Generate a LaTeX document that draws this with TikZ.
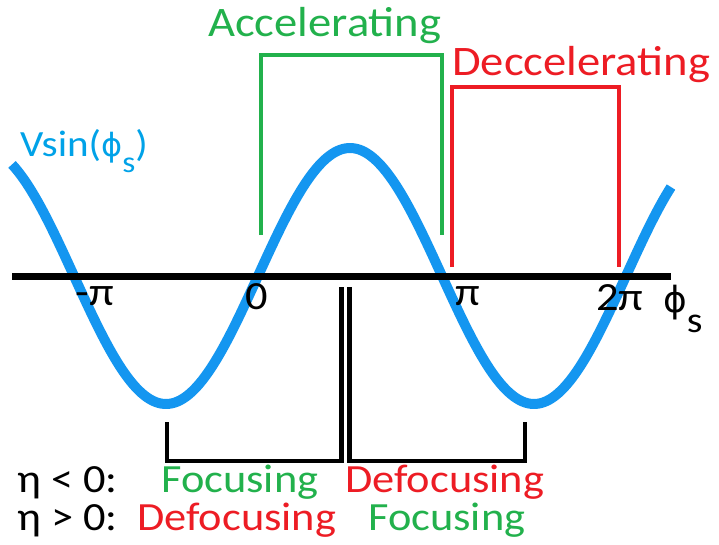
\documentclass[tikz,border=0pt]{standalone}
\usepackage{fontspec}
\setmainfont{Carlito}[FakeStretch=1.11]
\newfontfamily\dvfont{DejaVu Sans}
\definecolor{pgreen}{RGB}{34,177,76}
\definecolor{pred}{RGB}{237,28,36}
\definecolor{pblue}{RGB}{0,162,232}
\definecolor{wblue}{RGB}{20,150,240}
\tikzset{
  lbl/.style={inner sep=0pt, anchor=base west},
  tick/.style={inner sep=0pt, anchor=base, font=\fontsize{40}{44}\selectfont},
  bigtxt/.style={font=\fontsize{42}{46}\selectfont},
  midtxt/.style={font=\fontsize{40}{44}\selectfont},
  brk/.style={line width=4.5pt, line cap=butt, line join=miter},
}
\begin{document}
\begin{tikzpicture}[x=1pt,y=-1pt]
\fill[white] (0,0) rectangle (719,545);
\useasboundingbox (0,0) rectangle (719,545);
% sine wave
\draw[wblue, line width=10pt, line cap=butt] plot[domain=12:671, samples=240, smooth] (\x, {276-128*sin((\x-258)/184*180)});
% axis
\coordinate (axL) at (12,276);
\coordinate (axR) at (671,276);
\draw[line width=7pt] (axL) -- (axR);
% accelerating bracket
\coordinate (g1) at (261,235); \coordinate (g2) at (261,55);
\coordinate (g3) at (442,55); \coordinate (g4) at (442,235);
\draw[brk, pgreen] (g1) -- (g2) -- (g3) -- (g4);
% deccelerating bracket
\coordinate (r1) at (452,267); \coordinate (r2) at (452,87);
\coordinate (r3) at (619,87); \coordinate (r4) at (619,267);
\draw[brk, pred] (r1) -- (r2) -- (r3) -- (r4);
% focusing brackets
\coordinate (b1) at (167,422); \coordinate (b2) at (167,461);
\coordinate (b3) at (341.5,461); \coordinate (b4) at (341.5,287);
\draw[brk, black] (b1) -- (b2) -- (b3) -- (b4);
\coordinate (c1) at (349.5,287); \coordinate (c2) at (349.5,461);
\coordinate (c3) at (525,461); \coordinate (c4) at (525,422);
\draw[brk, black] (c1) -- (c2) -- (c3) -- (c4);
% labels
\node[lbl, bigtxt, text=pgreen] (acc) at (208,37) {Accelerating};
\node[lbl, bigtxt, text=pred] (dec) at (452,76) {Deccelerating};
\node[lbl, text=pblue, font=\fontsize{37}{40}\selectfont] (vs) at (20,157) {Vsin({\dvfont\fontsize{32}{36}\selectfont ϕ}\raisebox{-16pt}{\fontsize{30}{32}\selectfont s})};
\node[tick] (tm) at (95,305) {-π};
\node[tick] (t0) at (257,309) {0};
\node[tick] (tp) at (468,305) {π};
\node[tick] (t2) at (620,310) {2π};
\node[lbl, midtxt] (phs) at (663,312) {{\dvfont\fontsize{36}{40}\selectfont ϕ}\raisebox{-20pt}{\fontsize{36}{40}\selectfont s}};
% eta lines
\node[lbl, midtxt] (e1) at (17,492) {η < 0:};
\node[lbl, midtxt, text=pgreen] (f1) at (161,492) {Focusing};
\node[lbl, midtxt, text=pred] (d1) at (345,492) {Defocusing};
\node[lbl, midtxt] (e2) at (17,530) {η > 0:};
\node[lbl, midtxt, text=pred] (d2) at (137,530) {Defocusing};
\node[lbl, midtxt, text=pgreen] (f2) at (368,530) {Focusing};
\end{tikzpicture}
\end{document}
